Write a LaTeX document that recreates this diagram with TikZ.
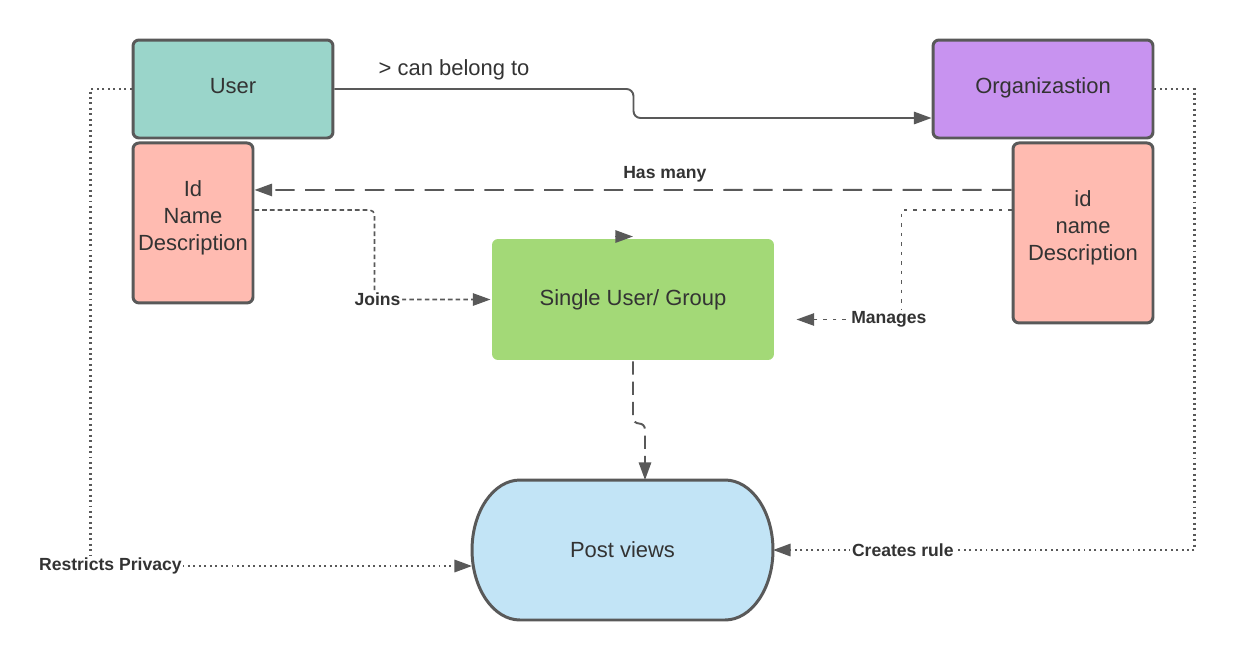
\documentclass[tikz,border=0pt]{standalone}
\usepackage{fontspec}
\setmainfont{Liberation Sans}
\usepackage{tikz}
\usetikzlibrary{calc}
\usetikzlibrary{arrows.meta,backgrounds}
\usetikzlibrary{positioning}
\definecolor{userteal}{HTML}{9AD5CA}
\definecolor{attrpink}{HTML}{FFBBB1}
\definecolor{orgpurple}{HTML}{C893F0}
\definecolor{groupgreen}{HTML}{A3D977}
\definecolor{postblue}{HTML}{C2E4F6}
\definecolor{edgegray}{HTML}{595959}
\definecolor{textgray}{HTML}{333333}
\tikzset{entity/.style={draw=edgegray, line width=1.7pt, rounded corners=3.4pt, text=textgray, font=\fontsize{12.5}{15.4}\selectfont, align=center, inner sep=0pt}}
\tikzset{tag/.style={fill=white, text=textgray, font=\fontsize{10}{12}\selectfont\bfseries, inner sep=1pt}}
\tikzset{link/.style={draw=edgegray, line width=1.1pt, -{Triangle[length=10pt,width=7pt]}}}
\tikzset{dots/.style={line width=1.3pt, dash pattern=on 1.1pt off 2pt}}

\begin{document}
\begin{tikzpicture}[x=0.02cm, y=-0.02cm, thick]
		\useasboundingbox (0,0) rectangle (1236,660);
		\node[entity, fill=userteal] (user) [minimum width=4cm, minimum height=1.96cm, text depth=3.4pt] at (233,89) {User};
		\node[entity, fill=attrpink] (uattr) [minimum width=2.4cm, minimum height=3.2cm, text depth=8.5pt, below right=0.04cm and 0cm of user.south west] {Id\\Name\\Description};
		\node[entity, fill=orgpurple] (org) [minimum width=4.4cm, minimum height=1.96cm, text depth=4pt] at (1043,89) {Organizastion};
		\node[entity, fill=attrpink] (oattr) [minimum width=2.8cm, minimum height=3.6cm, text depth=8.5pt, below left=0.04cm and 0cm of org.south east] {id\\name\\Description};
		\node[entity, fill=groupgreen, draw=none] (grp) [minimum width=5.64cm, minimum height=2.42cm] at (633,299.5) {Single User/ Group};
		\node[entity, draw=none, outer sep=0pt] (post) [minimum width=6.02cm, minimum height=2.8cm] at (622.5,550) {Post views};
		
		\begin{scope}[on background layer]
			\draw[draw=edgegray, line width=1.7pt, fill=postblue] ([xshift=0.96cm]post.north west) -- ([xshift=-0.96cm]post.north east)
				arc[start angle=90, end angle=-90, x radius=0.96cm, y radius=1.4cm] -- ([xshift=0.96cm]post.south west)
				arc[start angle=270, end angle=90, x radius=0.96cm, y radius=1.4cm] -- cycle;
		\end{scope}
		
		\coordinate (mgend) at ($(grp.east)+(21,20)$);
		\coordinate (stub) at ($(grp.north)+(-18,-1)$);
		
		\draw[link, rounded corners=0.14cm] (user.east) -- node[pos=0.4, yshift=0.39cm, text=textgray, font=\fontsize{12.5}{15}\selectfont] {> can belong to} ++(299,0) |- ($(org.west)+(0,29)$);
		\draw[link, dash pattern=on 11pt off 6pt] ($(oattr.west)+(0,-43)$) -- node[tag, fill=none, pos=0.458, yshift=0.32cm] {Has many} ($(uattr.east)+(0,-33)$);
		\draw[link, line width=0.9pt, dash pattern=on 2.6pt off 1.8pt, rounded corners=0.1cm] ($(uattr.east)+(0,-13)$) -- ++(120,0) |- node[tag, pos=0.5, xshift=0.06cm] {Joins} (grp.west);
		\draw[link, line width=0.9pt, dash pattern=on 2pt off 3.4pt] ($(oattr.west)+(0,-23)$) -- ++(-110,0) |- node[tag, pos=0.56] {Manages} (mgend);
		\draw[link] (stub) -- ($(grp.north)+(0,-1)$);
		\draw[link, dash pattern=on 7.5pt off 4pt, rounded corners=0.12cm] (grp.south) -- ++(0,62) -- ++(12,0) -- ($(post.north)+(22.5,0)$);
		\draw[link, dots] (user.west) -- ++(-41,0) |- node[tag, pos=0.526] {Restricts Privacy} ($(post.west)+(0,16)$);
		\draw[link, dots] (org.east) -- ++(40,0) |- node[tag, pos=0.846] {Creates rule} (post.east);
	\end{tikzpicture}
\end{document}
